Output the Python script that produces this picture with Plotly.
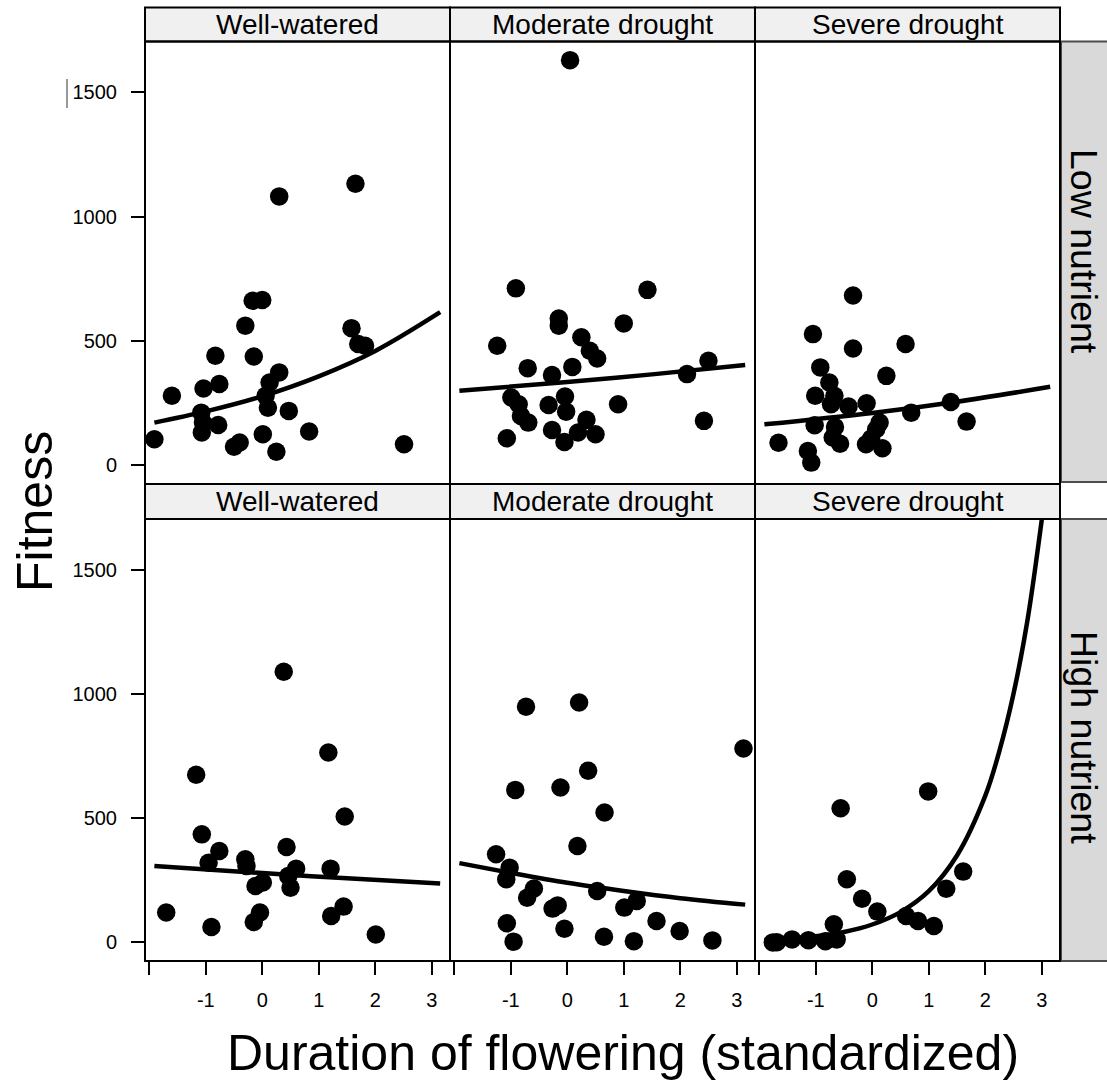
import plotly.graph_objects as go

W, H = 1107, 1080

# ---------------- data ----------------
water_levels = ["Well-watered", "Moderate drought", "Severe drought"]
nutrient_levels = ["Low nutrient", "High nutrient"]

ww_low_x = [0.30, 1.65, -0.17, 0.00, -0.30, 1.58, 1.70, 1.82, -0.83, -0.15, 0.30, 0.13, -0.76, -1.04, -1.60,
            0.06, 0.10, 0.47, -1.08, -1.05, -0.78, -1.07, 0.01, 0.83, -1.91, -0.40, -0.50, 0.25, 2.51]
ww_low_y = [1082, 1133, 662, 665, 562, 552, 488, 481, 441, 438, 374, 333, 327, 309, 280,
            280, 232, 219, 212, 172, 162, 132, 125, 136, 105, 92, 75, 55, 85]

md_low_x = [0.05, -0.91, 1.42, -0.15, -0.15, 1.00, 0.25, -1.24, 0.40, 0.53, -0.70, 0.09, -0.27, 2.50, 2.12,
            -0.99, -0.04, -0.86, -0.33, 0.90, -0.02, -0.82, -0.69, 0.34, 2.42, -0.27, 0.19, 0.50, -1.07, -0.05]
md_low_y = [1630, 712, 706, 591, 562, 571, 515, 481, 461, 430, 391, 396, 363, 421, 367,
            273, 277, 246, 243, 246, 216, 199, 172, 183, 179, 142, 132, 125, 109, 94]

sd_low_x = [-0.34, -1.05, -0.34, 0.59, -0.92, 0.25, -0.76, -0.67, -1.01, -0.73, -0.42, -0.10, 1.39, 0.69,
            -1.02, 0.13, -0.66, 1.67, 0.07, -0.02, -0.70, -0.57, -1.66, -0.11, 0.18, -1.14, -1.08]
sd_low_y = [683, 528, 470, 488, 394, 360, 333, 280, 280, 246, 237, 250, 255, 212,
            161, 172, 154, 176, 145, 108, 112, 87, 91, 85, 69, 58, 11]

ww_high_x = [0.38, 1.17, -1.17, 1.46, -1.07, -0.76, 0.43, -0.95, -0.30, -0.28, 0.60, 1.21, 0.46, 0.01,
             -0.12, 0.50, -1.70, -0.04, 1.44, 1.22, -0.15, -0.90, 2.01]
ww_high_y = [1090, 765, 675, 507, 435, 368, 384, 321, 335, 308, 297, 297, 267, 241,
             227, 220, 120, 120, 144, 106, 82, 62, 32]

md_high_x = [-0.73, 0.21, 3.12, 0.37, -0.92, -0.12, 0.66, 0.18, -1.26, -1.02, -1.08, -0.59, -0.71, 0.53,
             1.23, -0.17, -0.26, 1.01, 1.58, -1.07, -0.05, 1.99, -0.95, 0.65, 1.18, 2.57]
md_high_y = [949, 966, 781, 691, 614, 624, 523, 388, 355, 301, 254, 217, 180, 207,
             167, 149, 136, 140, 86, 77, 55, 46, 3, 23, 5, 8]

sd_high_x = [0.99, -0.56, -0.45, 1.61, 1.31, -0.18, 0.09, 0.60, 0.81, 1.09, -0.68, -0.63, -0.83, -1.13,
             -1.42, -1.69, -1.76]
sd_high_y = [608, 540, 254, 285, 216, 176, 124, 106, 86, 66, 73, 12, 5, 9, 12, 1, 0]

# fitted curves
ww_low_fit_x = [-1.91, -1, 0, 1, 2, 3.15]
ww_low_fit_y = [172, 217, 278, 358, 460, 616]
md_low_fit_x = [-1.91, 0, 1.5, 3.15]
md_low_fit_y = [300, 335, 366, 404]
sd_low_fit_x = [-1.91, 0, 1.5, 3.15]
sd_low_fit_y = [165, 211, 256, 316]
ww_high_fit_x = [-1.91, 0, 1.5, 3.15]
ww_high_fit_y = [308, 279, 258, 237]
md_high_fit_x = [-1.91, -1, 0, 1, 2, 3.15]
md_high_fit_y = [319, 280, 240, 207, 178, 152]
sd_high_fit_x = [-1.91, -1, -0.5, 0, 0.5, 1, 1.5, 2, 2.25, 2.5, 2.75, 3.0, 3.1]
sd_high_fit_y = [10, 25, 42, 72, 122, 206, 350, 590, 770, 1000, 1300, 1700, 1880]

x_tickvals = [-2, -1, 0, 1, 2, 3]
x_ticktext = ["", "-1", "0", "1", "2", "3"]
y_tickvals = [0, 500, 1000, 1500]
y_ticktext = ["0", "500", "1000", "1500"]

panels = [
    (0, 0, ww_low_x, ww_low_y, ww_low_fit_x, ww_low_fit_y),
    (0, 1, md_low_x, md_low_y, md_low_fit_x, md_low_fit_y),
    (0, 2, sd_low_x, sd_low_y, sd_low_fit_x, sd_low_fit_y),
    (1, 0, ww_high_x, ww_high_y, ww_high_fit_x, ww_high_fit_y),
    (1, 1, md_high_x, md_high_y, md_high_fit_x, md_high_fit_y),
    (1, 2, sd_high_x, sd_high_y, sd_high_fit_x, sd_high_fit_y),
]

# ---------------- geometry (pixels) ----------------
col_edges = [(145, 450), (450, 755), (755, 1060)]
row_edges = [(41.5, 484), (519, 961)]          # plot areas (top, bottom) in px
strip_edges = [(7.5, 41.5), (484, 519)]         # top strips
FONT = "Liberation Sans, Arial, sans-serif"


def px(x):
    return x / W


def py(y):
    return 1 - y / H


fig = go.Figure()
layout = dict(
    width=W, height=H, autosize=False,
    margin=dict(l=0, r=0, t=0, b=0),
    paper_bgcolor="white", plot_bgcolor="white",
    showlegend=False,
    font=dict(family=FONT, color="black"),
)

shapes = []
annotations = []

for i, (r, c, xs, ys, fx, fy) in enumerate(panels):
    n = i + 1
    xa = "x" if n == 1 else f"x{n}"
    ya = "y" if n == 1 else f"y{n}"
    fig.add_trace(go.Scatter(x=xs, y=ys, mode="markers", xaxis=xa, yaxis=ya,
                             marker=dict(size=18.5, color="black", line=dict(width=0))))
    fig.add_trace(go.Scatter(x=fx, y=fy, mode="lines", xaxis=xa, yaxis=ya,
                             line=dict(color="black", width=4.5, shape="spline")))
    c0, c1 = col_edges[c]
    r0, r1 = row_edges[r]
    bottom = (r == 1)
    left = (c == 0)
    layout["xaxis" if n == 1 else f"xaxis{n}"] = dict(
        domain=[px(c0), px(c1)], range=[-2.076, 3.324], anchor=ya,
        showgrid=False, zeroline=False, showline=False,
        ticks="outside" if bottom else "", ticklen=13, tickwidth=2, tickcolor="black",
        tickvals=x_tickvals, ticktext=x_ticktext, showticklabels=bottom,
        tickfont=dict(size=20, family=FONT, color="black"), ticklabelstandoff=8,
    )
    layout["yaxis" if n == 1 else f"yaxis{n}"] = dict(
        domain=[py(r1), py(r0)], range=[-75, 1705], anchor=xa,
        showgrid=False, zeroline=False, showline=False,
        ticks="outside" if left else "", ticklen=13, tickwidth=2, tickcolor="black",
        tickvals=y_tickvals, ticktext=y_ticktext, showticklabels=left,
        tickfont=dict(size=20, family=FONT, color="black"), ticklabelstandoff=10,
    )
    # panel border
    shapes.append(dict(type="rect", xref="paper", yref="paper",
                       x0=px(c0), x1=px(c1), y0=py(r1), y1=py(r0),
                       fillcolor="rgba(0,0,0,0)", line=dict(color="black", width=2), layer="above"))

# top strips
for r in range(2):
    s0, s1 = strip_edges[r]
    for c in range(3):
        c0, c1 = col_edges[c]
        shapes.append(dict(type="rect", xref="paper", yref="paper",
                           x0=px(c0), x1=px(c1), y0=py(s1), y1=py(s0),
                           fillcolor="#f0f0f0", line=dict(color="black", width=2), layer="below"))
        annotations.append(dict(text=water_levels[c], xref="paper", yref="paper",
                                x=px((c0 + c1) / 2), y=py((s0 + s1) / 2), showarrow=False,
                                xanchor="center", yanchor="middle",
                                font=dict(size=28, family=FONT, color="black")))
# right strips
right_strips = [(41.5, 482), (519, 961)]
right_text_y = [251, 737]
for r in range(2):
    s0, s1 = right_strips[r]
    shapes.append(dict(type="rect", xref="paper", yref="paper",
                       x0=px(1061), x1=px(1112), y0=py(s1), y1=py(s0),
                       fillcolor="#d9d9d9", line=dict(color="#4d4d4d", width=2), layer="below"))
    annotations.append(dict(text=nutrient_levels[r], xref="paper", yref="paper",
                            x=px(1084), y=py(right_text_y[r]), showarrow=False, textangle=90,
                            xanchor="center", yanchor="middle",
                            font=dict(size=37.5, family=FONT, color="black")))

# axis titles
annotations.append(dict(text="Fitness", xref="paper", yref="paper", x=px(35), y=py(512),
                        showarrow=False, textangle=-90, xanchor="center", yanchor="middle",
                        font=dict(size=50, family=FONT, color="black")))
annotations.append(dict(text="Duration of flowering (standardized)", xref="paper", yref="paper",
                        x=px(623), y=py(1053), showarrow=False, xanchor="center", yanchor="middle",
                        font=dict(size=50, family=FONT, color="black")))

# small stray mark next to the top "1500" label
shapes.append(dict(type="line", xref="paper", yref="paper", x0=px(67), x1=px(67),
                   y0=py(108), y1=py(79), line=dict(color="#333333", width=1)))

layout["shapes"] = shapes
layout["annotations"] = annotations
fig.update_layout(**layout)

fig.write_html("out.html")
